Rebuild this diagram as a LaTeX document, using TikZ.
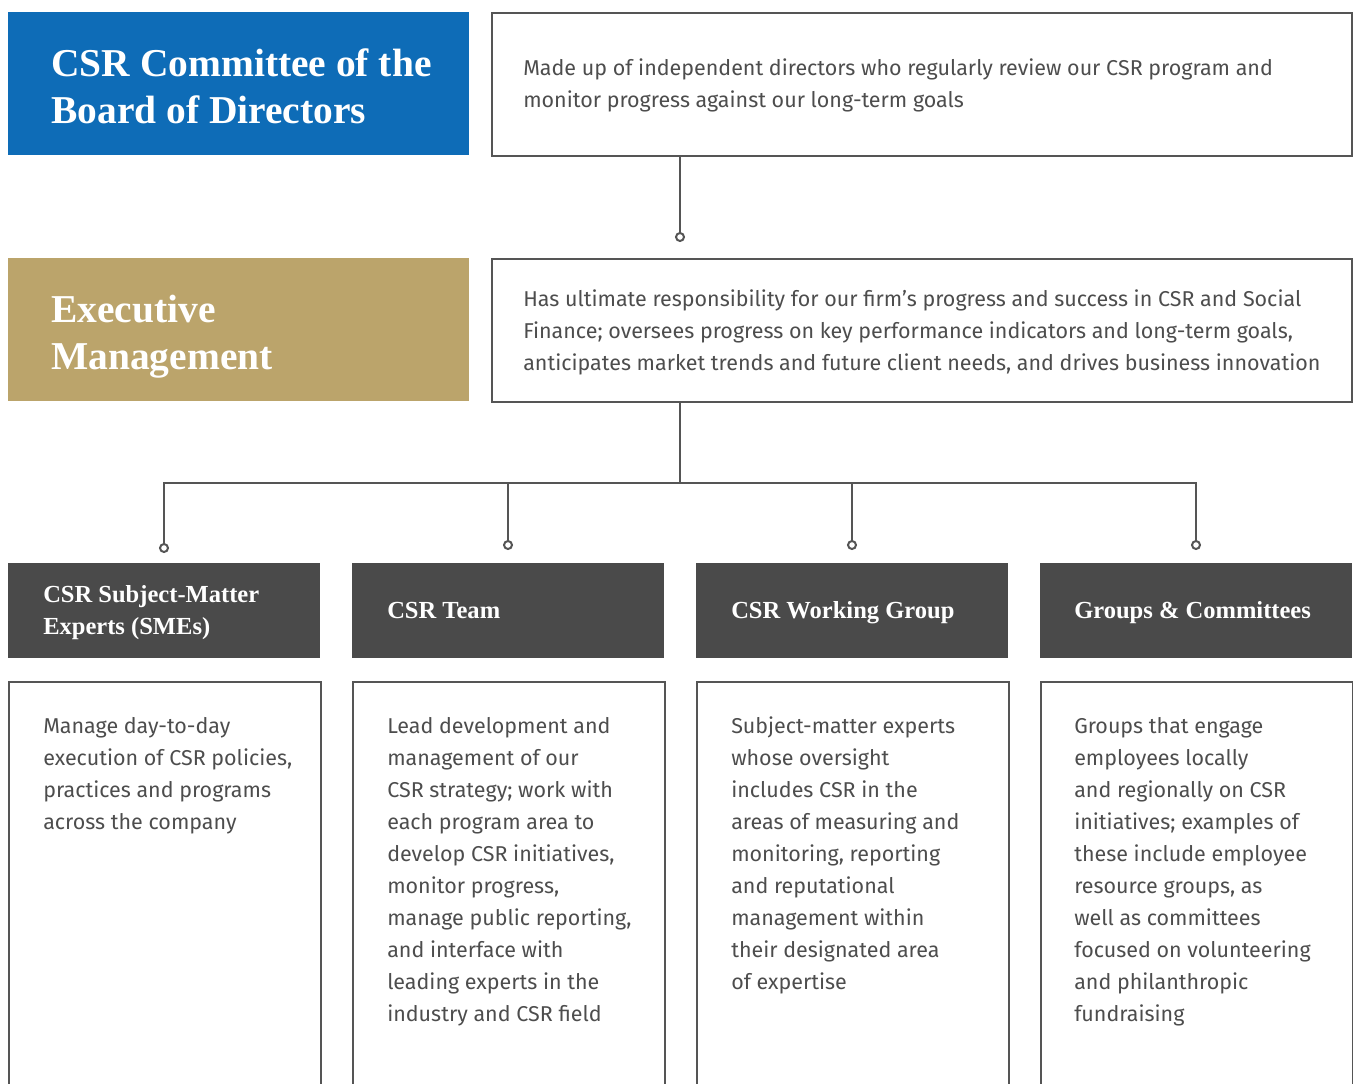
\documentclass[tikz,border=0pt]{standalone}
\usepackage{fontspec}
\setmainfont{Fira Sans}
\newfontfamily\headfont{Liberation Serif}
\usetikzlibrary{arrows.meta,positioning}

\definecolor{csrblue}{HTML}{0E6CB7}
\definecolor{csrgold}{HTML}{BBA46B}
\definecolor{csrdark}{HTML}{4A4A4A}
\definecolor{csrline}{HTML}{555555}
\definecolor{csrtext}{HTML}{4D4D4D}

\begin{document}
\begin{tikzpicture}[x=0.75pt, y=-0.75pt]
	\tikzset{
		titlebox/.style={rectangle, anchor=north west, inner sep=0, minimum width=461*0.75pt, minimum height=143*0.75pt},
		descbox/.style={rectangle, anchor=north west, inner sep=0, draw=csrline, line width=1.5pt, fill=white, minimum width=860*0.75pt, minimum height=143*0.75pt},
		headbox/.style={rectangle, anchor=north west, inner sep=0, fill=csrdark, minimum width=312*0.75pt, minimum height=95*0.75pt},
		colbox/.style={rectangle, anchor=north west, inner sep=0, draw=csrline, line width=1.5pt, minimum width=312*0.75pt, minimum height=520*0.75pt},
		% text nodes are placed at the baseline of their last line
		titletext/.style={anchor=base west, inner sep=0, align=left, text=white, font=\headfont\bfseries\fontsize{29.6}{35.25}\selectfont},
		headtext/.style={anchor=base west, inner sep=0, align=left, text=white, font=\headfont\bfseries\fontsize{18.4}{24}\selectfont},
		bodytext/.style={anchor=base west, inner sep=0, align=left, text=csrtext, font=\fontsize{16.1}{24}\selectfont},
		bus/.style={draw=csrline, line width=1.5pt},
		conn/.style={bus, -{Circle[open, length=7.5pt, fill=white]}}
	};

	\useasboundingbox (0,0) rectangle (1353,1083);
	\clip (0,0) rectangle (1353,1083);

	% top rows
	\node[titlebox, fill=csrblue] (committee) at (8,12) {};
	\node[descbox] (committeedesc) at (491,12) {};
	\node[titlebox, fill=csrgold] (exec) at (8,258) {};
	\node[descbox] (execdesc) at (491,258) {};

	\node[titletext] (committeetxt) at (51,123) {CSR Committee of the\\Board of Directors};
	\node[bodytext] (committeeinfo) at (523,107) {Made up of independent directors who regularly review our CSR program and\\monitor progress against our long-term goals};
	\node[titletext] (exectxt) at (51,369) {Executive\\Management};
	\node[bodytext] (execinfo) at (523,370) {Has ultimate responsibility for our firm’s progress and success in CSR and Social\\Finance; oversees progress on key performance indicators and long-term goals,\\anticipates market trends and future client needs, and drives business innovation};

	% columns
	\node[headbox] (sme) at (8,563) {};
	\node[headbox] (team) at (352,563) {};
	\node[headbox] (wg) at (696,563) {};
	\node[headbox] (grp) at (1040,563) {};

	\node[colbox] (smedesc) at (8,681) {};
	\node[colbox] (teamdesc) at (352,681) {};
	\node[colbox] (wgdesc) at (696,681) {};
	\node[colbox] (grpdesc) at (1040,681) {};

	\node[headtext] (smetxt) at (43,634) {CSR Subject-Matter\\Experts (SMEs)};
	\node[headtext] (teamtxt) at (387,618) {CSR Team};
	\node[headtext] (wgtxt) at (731,618) {CSR Working Group};
	\node[headtext] (grptxt) at (1074,618) {Groups \& Committees};

	\node[bodytext] (smeinfo) at (43,829) {Manage day-to-day\\execution of CSR policies,\\practices and programs\\across the company};
	\node[bodytext] (teaminfo) at (387,1021) {Lead development and\\management of our\\CSR strategy; work with\\each program area to\\develop CSR initiatives,\\monitor progress,\\manage public reporting,\\and interface with\\leading experts in the\\industry and CSR field};
	\node[bodytext] (wginfo) at (731,989) {Subject-matter experts\\whose oversight\\includes CSR in the\\areas of measuring and\\monitoring, reporting\\and reputational\\management within\\their designated area\\of expertise};
	\node[bodytext] (grpinfo) at (1074,1021) {Groups that engage\\employees locally\\and regionally on CSR\\initiatives; examples of\\these include employee\\resource groups, as\\well as committees\\focused on volunteering\\and philanthropic\\fundraising};

	% connectors
	\coordinate (execin) at (680,242);
	\coordinate (split) at (680,483);
	\coordinate (smein) at (164,553);
	\coordinate (teamin) at (508,550);
	\coordinate (wgin) at (852,550);
	\coordinate (grpin) at (1196,550);

	\draw[conn] (committeedesc.south west -| execin) -- (execin);
	\draw[bus] (execdesc.south west -| split) -- (split);
	\draw[conn] (split) -| (smein);
	\draw[conn] (split) -| (grpin);
	\draw[conn] (split -| teamin) -- (teamin);
	\draw[conn] (split -| wgin) -- (wgin);

\end{tikzpicture}
\end{document}
